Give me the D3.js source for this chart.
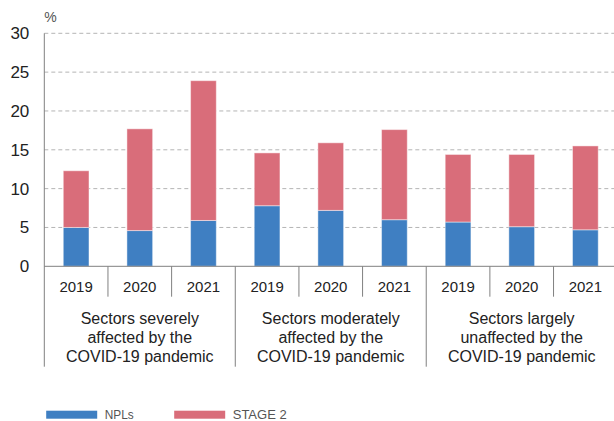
<!DOCTYPE html>
<html>
<head>
<meta charset="utf-8">
<script src="https://cdn.jsdelivr.net/npm/d3@7"></script>
<style>
  html, body { margin: 0; padding: 0; background: #fff; }
  svg { display: block; font-family: "Liberation Sans", Arial, Helvetica, sans-serif; }
</style>
</head>
<body>
<svg id="chart" width="614" height="421"></svg>
<script>
// Sector groups and years
const groups = [
  ["Sectors severely", "affected by the", "COVID-19 pandemic"],
  ["Sectors moderately", "affected by the", "COVID-19 pandemic"],
  ["Sectors largely", "unaffected by the", "COVID-19 pandemic"]
];
const years = ["2019", "2020", "2021"];

// Ratios (%) per group × year, in order
const npls   = [5.0, 4.6, 5.9,   7.8, 7.2, 6.0,   5.7, 5.1, 4.7];
const stage2 = [7.3, 13.1, 18.0, 6.8, 8.7, 11.6,  8.7, 9.3, 10.8];

const yTicks = [0, 5, 10, 15, 20, 25, 30];
const seriesNames = ["NPLs", "STAGE 2"];
const seriesColors = ["#3f7fc2", "#d96d7a"];

(function draw() {
  const rows = [];
  groups.forEach((g, gi) => years.forEach((yr, yi) => {
    const i = gi * years.length + yi;
    rows.push({ key: gi + "-" + yr, group: gi, year: yr, "NPLs": npls[i], "STAGE 2": stage2[i] });
  }));

  const svg = d3.select("#chart");
  const plotLeft = 44.3, plotRight = 617.2, plotTop = 33.3, plotBottom = 266.3;

  const x = d3.scaleBand().domain(rows.map(d => d.key)).range([plotLeft, plotRight]).padding(0);
  const y = d3.scaleLinear().domain([0, 30]).range([plotBottom, plotTop]);
  const color = d3.scaleOrdinal().domain(seriesNames).range(seriesColors);

  // Dashed horizontal gridlines
  svg.append("g")
    .selectAll("line")
    .data(yTicks.filter(t => t > 0))
    .join("line")
    .attr("x1", plotLeft).attr("x2", 614)
    .attr("y1", d => y(d)).attr("y2", d => y(d))
    .attr("stroke", "#b4b4b4")
    .attr("stroke-width", 1)
    .attr("stroke-dasharray", "4,3");

  // Stacked bars
  const stacked = d3.stack().keys(seriesNames)(rows);
  const barW = x.bandwidth() * 0.404;
  svg.append("g")
    .selectAll("g")
    .data(stacked)
    .join("g")
    .attr("fill", d => color(d.key))
    .selectAll("rect")
    .data(d => d)
    .join("rect")
    .attr("x", d => x(d.data.key) + (x.bandwidth() - barW) / 2)
    .attr("width", barW)
    .attr("y", d => y(d[1]))
    .attr("height", d => y(d[0]) - y(d[1]))
    .attr("stroke", "rgba(255,255,255,0.45)")
    .attr("stroke-width", 1);

  // Y axis labels
  const yAxis = d3.axisLeft(y).tickValues(yTicks).tickSize(0).tickPadding(15);
  const ya = svg.append("g").attr("transform", `translate(${plotLeft},0)`).call(yAxis);
  ya.select(".domain").remove();
  ya.selectAll("text")
    .attr("font-size", 17)
    .attr("font-family", "Liberation Sans, Arial, sans-serif")
    .attr("fill", "#222");

  // Unit label
  svg.append("text")
    .attr("x", plotLeft).attr("y", 21.5)
    .attr("font-size", 14)
    .attr("fill", "#555")
    .text("%");

  const axisColor = "#808080";

  // Left axis line, running down as the first group separator
  svg.append("line")
    .attr("x1", plotLeft).attr("x2", plotLeft)
    .attr("y1", plotTop).attr("y2", 366.7)
    .attr("stroke", axisColor).attr("stroke-width", 1);

  // Baseline
  svg.append("line")
    .attr("x1", plotLeft).attr("x2", 614)
    .attr("y1", plotBottom).attr("y2", plotBottom)
    .attr("stroke", axisColor).attr("stroke-width", 1);

  // Separators between years (short) and between groups (long)
  const boundaries = rows.map((d, i) => i).filter(i => i > 0);
  svg.append("g")
    .selectAll("line")
    .data(boundaries)
    .join("line")
    .attr("x1", i => x(rows[i].key)).attr("x2", i => x(rows[i].key))
    .attr("y1", plotBottom)
    .attr("y2", i => (i % years.length === 0 ? 366.7 : 296.7))
    .attr("stroke", axisColor).attr("stroke-width", 1);

  // Year labels
  svg.append("g")
    .selectAll("text")
    .data(rows)
    .join("text")
    .attr("x", d => x(d.key) + x.bandwidth() / 2)
    .attr("y", 292)
    .attr("text-anchor", "middle")
    .attr("font-size", 15)
    .attr("fill", "#222")
    .text(d => d.year);

  // Group labels
  const groupCenter = gi => {
    const first = rows[gi * years.length].key;
    const last = rows[gi * years.length + years.length - 1].key;
    return (x(first) + x(last) + x.bandwidth()) / 2;
  };
  const gl = svg.append("g")
    .selectAll("text")
    .data(groups)
    .join("text")
    .attr("text-anchor", "middle")
    .attr("font-size", 16)
    .attr("fill", "#222");
  gl.selectAll("tspan")
    .data((d, gi) => d.map((line, li) => ({ line, li, gi })))
    .join("tspan")
    .attr("x", d => groupCenter(d.gi))
    .attr("y", d => 324 + d.li * 19)
    .text(d => d.line);

  // Legend
  const legendX = [46.2, 174.2];
  const lg = svg.append("g")
    .selectAll("g")
    .data(seriesNames)
    .join("g")
    .attr("transform", (d, i) => `translate(${legendX[i]},410.7)`);
  lg.append("rect")
    .attr("width", 51).attr("height", 8)
    .attr("fill", d => color(d));
  lg.append("text")
    .attr("x", 58.5).attr("y", 8.6)
    .attr("font-size", 13.5)
    .attr("fill", "#555")
    .attr("textLength", d => (d === "NPLs" ? 29 : 54))
    .attr("lengthAdjust", "spacingAndGlyphs")
    .text(d => d);
})();
</script>
</body>
</html>
